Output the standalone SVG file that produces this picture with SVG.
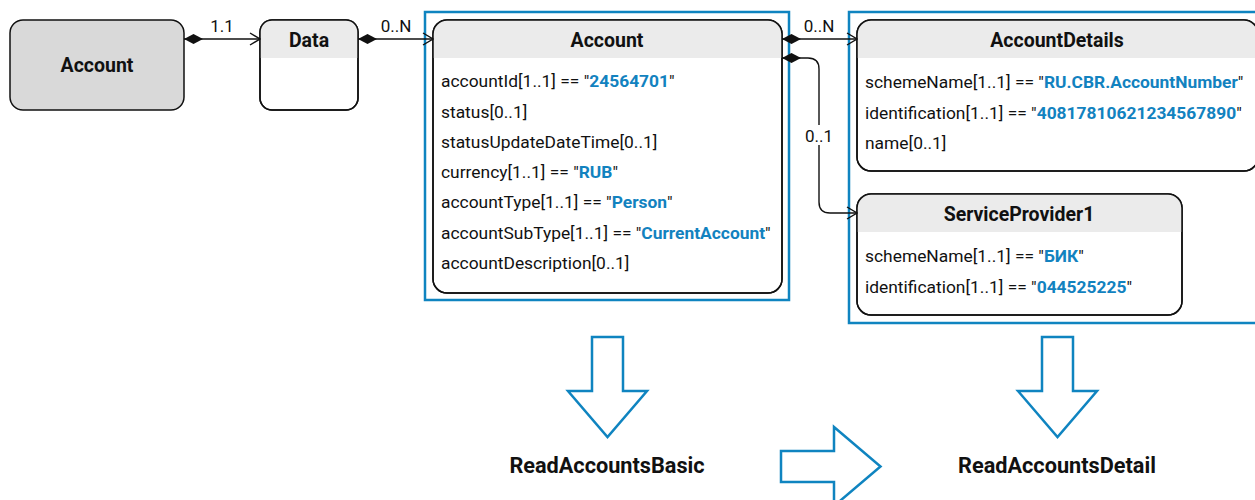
<svg xmlns="http://www.w3.org/2000/svg" width="1255" height="500" viewBox="0 0 1255 500">
<style>
text{font-family:Roboto,"Liberation Sans",sans-serif;fill:#111;}
.t{font-size:19.5px;font-weight:bold;text-anchor:middle;}
.a{font-size:17.4px;}
.v{fill:#1282bf;font-weight:bold;}
.lbl{font-size:17px;text-anchor:middle;}
.box{fill:#fff;stroke:#111;stroke-width:1.5;}
.hdr{fill:#ebebeb;}
.frame{fill:none;stroke:#0f84c0;stroke-width:2.5;}
.big{fill:#fff;stroke:#0f84c0;stroke-width:2.5;stroke-linejoin:miter;}
.con{fill:none;stroke:#111;stroke-width:1.4;}
.cap{font-size:21.7px;font-weight:bold;text-anchor:middle;}
</style>
<defs>
<marker id="dia" viewBox="0 0 20 12" refX="0" refY="6" markerWidth="20" markerHeight="12" markerUnits="userSpaceOnUse" orient="auto"><path d="M0 6 L9.5 1 L19 6 L9.5 11 Z" fill="#111"/></marker>
<marker id="arr" viewBox="0 0 12 14" refX="11" refY="7" markerWidth="12" markerHeight="14" markerUnits="userSpaceOnUse" orient="auto"><path d="M1 1 L11 7 L1 13" fill="none" stroke="#111" stroke-width="1.4"/></marker>
<clipPath id="c1"><rect x="260" y="20" width="98" height="90" rx="12"/></clipPath>
<clipPath id="c2"><rect x="433" y="20" width="349" height="273" rx="14"/></clipPath>
<clipPath id="c3"><rect x="857" y="20" width="401" height="151" rx="14"/></clipPath>
<clipPath id="c4"><rect x="857" y="194" width="325" height="121" rx="14"/></clipPath>
</defs>

<g id="frames">
<rect class="frame" x="425" y="12" width="364" height="288"/>
<rect class="frame" x="849" y="12" width="420" height="311"/>
</g>

<g id="node-account-root">
<rect x="10" y="20" width="174" height="90" rx="13" fill="#d9d9d9" stroke="#111" stroke-width="1.5"/>
<text class="t" x="97" y="72">Account</text>
</g>

<g id="node-data">
<rect class="box" x="260" y="20" width="98" height="90" rx="12"/>
<rect class="hdr" x="260" y="20" width="98" height="38" clip-path="url(#c1)"/>
<rect x="260" y="20" width="98" height="90" rx="12" fill="none" stroke="#111" stroke-width="1.5"/>
<text class="t" x="309" y="47">Data</text>
</g>

<g id="node-account">
<rect class="box" x="433" y="20" width="349" height="273" rx="14"/>
<rect class="hdr" x="433" y="20" width="349" height="38" clip-path="url(#c2)"/>
<rect x="433" y="20" width="349" height="273" rx="14" fill="none" stroke="#111" stroke-width="1.5"/>
<text class="t" x="607" y="47">Account</text>
<text class="a" x="441" y="87">accountId[1..1] == "<tspan class="v">24564701</tspan>"</text>
<text class="a" x="441" y="118">status[0..1]</text>
<text class="a" x="441" y="148">statusUpdateDateTime[0..1]</text>
<text class="a" x="441" y="178">currency[1..1] == "<tspan class="v">RUB</tspan>"</text>
<text class="a" x="441" y="208">accountType[1..1] == "<tspan class="v">Person</tspan>"</text>
<text class="a" x="441" y="239">accountSubType[1..1] == "<tspan class="v">CurrentAccount</tspan>"</text>
<text class="a" x="441" y="269">accountDescription[0..1]</text>
</g>

<g id="node-accountdetails">
<rect class="box" x="857" y="20" width="401" height="151" rx="14"/>
<rect class="hdr" x="857" y="20" width="401" height="38" clip-path="url(#c3)"/>
<rect x="857" y="20" width="401" height="151" rx="14" fill="none" stroke="#111" stroke-width="1.5"/>
<text class="t" x="1057" y="47">AccountDetails</text>
<text class="a" x="865" y="88">schemeName[1..1] == "<tspan class="v">RU.CBR.AccountNumber</tspan>"</text>
<text class="a" x="865" y="119">identification[1..1] == "<tspan class="v">40817810621234567890</tspan>"</text>
<text class="a" x="865" y="149">name[0..1]</text>
</g>

<g id="node-serviceprovider1">
<rect class="box" x="857" y="194" width="325" height="121" rx="14"/>
<rect class="hdr" x="857" y="194" width="325" height="38" clip-path="url(#c4)"/>
<rect x="857" y="194" width="325" height="121" rx="14" fill="none" stroke="#111" stroke-width="1.5"/>
<text class="t" x="1019" y="221">ServiceProvider1</text>
<text class="a" x="865" y="262">schemeName[1..1] == "<tspan class="v">БИК</tspan>"</text>
<text class="a" x="865" y="293">identification[1..1] == "<tspan class="v">044525225</tspan>"</text>
</g>

<g id="connectors">
<path class="con" d="M184 39 H260" marker-start="url(#dia)" marker-end="url(#arr)"/>
<text class="lbl" x="222" y="32">1.1</text>
<path class="con" d="M358 39 H433" marker-start="url(#dia)" marker-end="url(#arr)"/>
<text class="lbl" x="396" y="32">0..N</text>
<path class="con" d="M782 39 H857" marker-start="url(#dia)" marker-end="url(#arr)"/>
<text class="lbl" x="819" y="32">0..N</text>
<path class="con" d="M782 58 H808 Q819 58 819 69 V202 Q819 213 830 213 H857" marker-start="url(#dia)" marker-end="url(#arr)"/>
<rect x="806" y="125" width="26" height="20" fill="#fff"/>
<text class="lbl" x="819" y="142">0..1</text>
</g>

<g id="arrow-basic">
<path class="big" d="M592 337 H623 V391 H647 L607.5 437 L568 391 H592 Z"/>
<text class="cap" x="607" y="473">ReadAccountsBasic</text>
</g>

<g id="arrow-next">
<path class="big" d="M781 451 H834 V427 L880.5 466.5 L834 506 V482 H781 Z"/>
</g>

<g id="arrow-detail">
<path class="big" d="M1042 337 H1073 V391 H1097 L1057.5 437 L1018 391 H1042 Z"/>
<text class="cap" x="1057" y="473">ReadAccountsDetail</text>
</g>
</svg>
